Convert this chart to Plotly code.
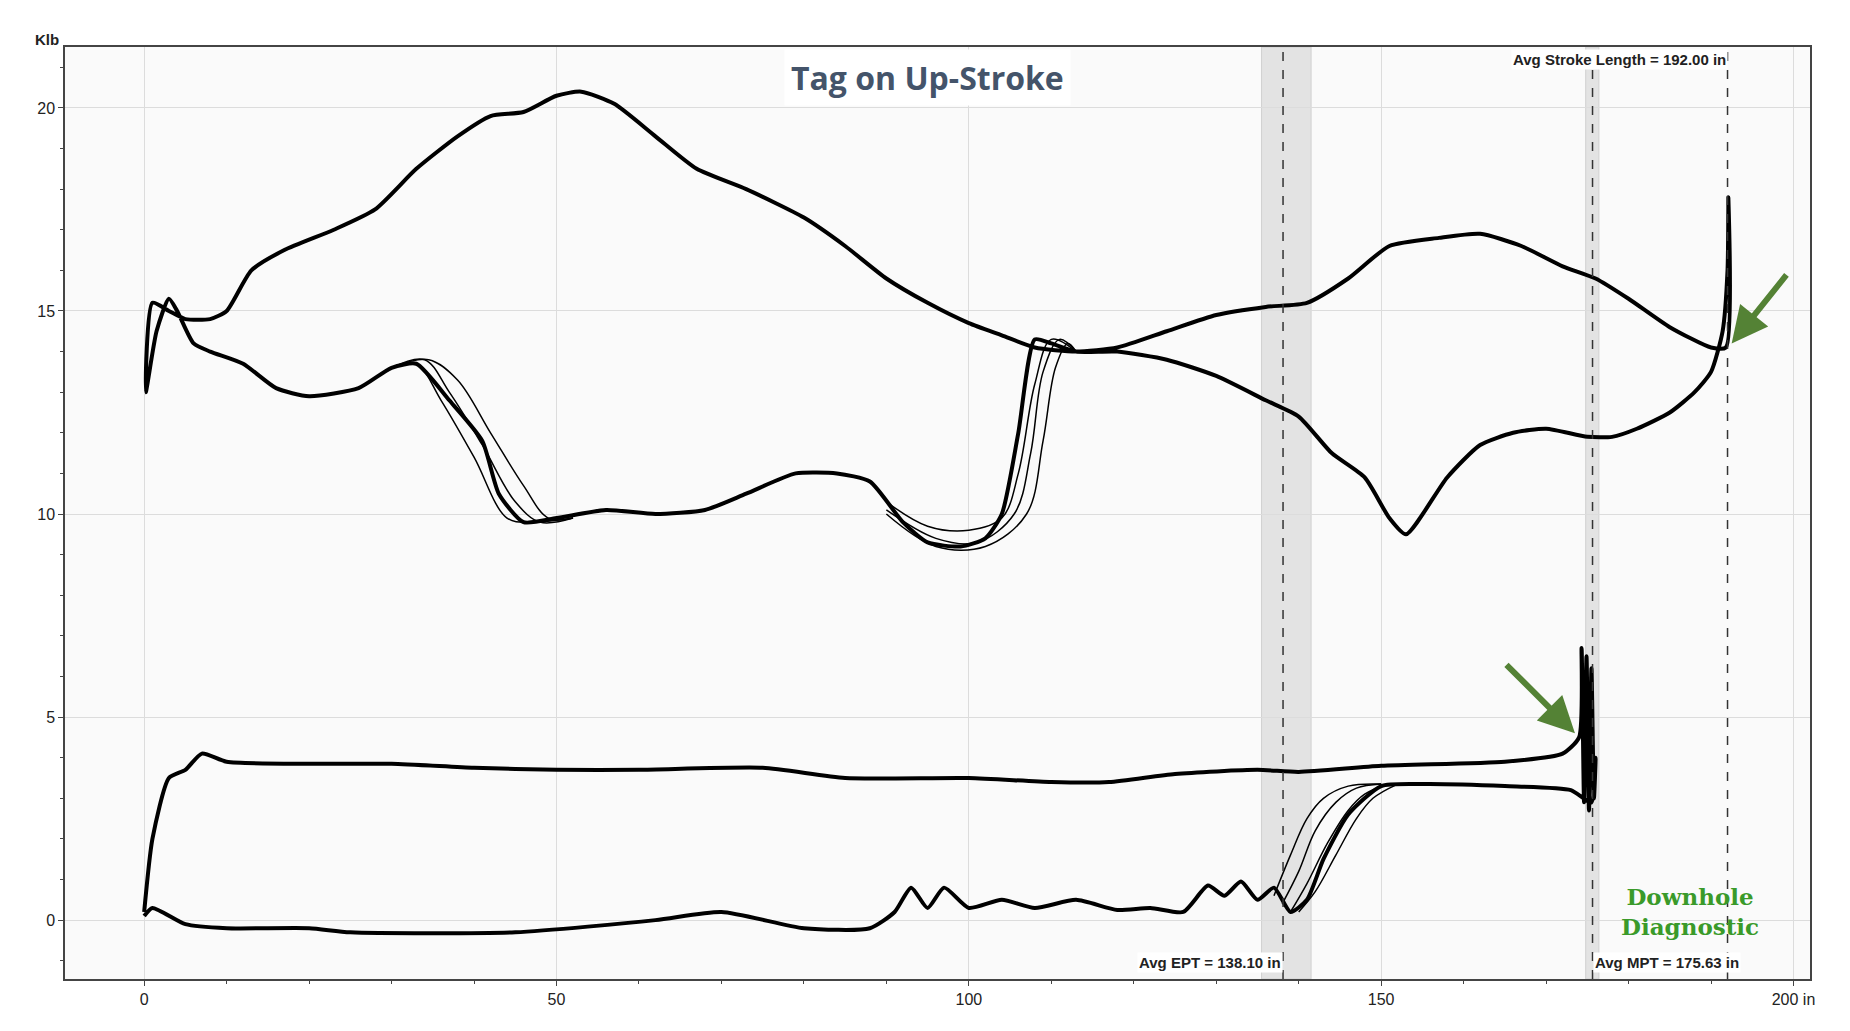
import plotly.graph_objects as go

# surface card (one loop, points in stroke order)
surf_x = [0.2, 1, 3, 5, 8, 10, 13, 17, 23, 28, 33, 38, 42, 46, 50, 53, 57, 62, 67, 73, 80, 85, 90, 95, 100, 104, 108,
          113, 118, 124, 130, 136, 141, 146, 151, 157, 162, 167, 172, 176, 180, 185, 190, 191.8, 192.1, 192, 191.4,
          190, 188, 185, 181, 178, 175, 170, 166, 162, 158, 153, 151, 148, 144, 140, 136, 130, 124, 118, 113, 110,
          108, 106, 104, 102, 99, 95, 92, 88, 84, 79, 73, 68, 62, 56, 50, 46, 43, 41, 37, 33, 30, 26, 20, 16, 12, 8,
          6, 4, 3, 1.5, 0.2]
surf_y = [13.0, 15.2, 15.0, 14.8, 14.8, 15.0, 16.0, 16.5, 17.0, 17.5, 18.5, 19.3, 19.8, 19.9, 20.3, 20.4, 20.1, 19.3,
          18.5, 18.0, 17.3, 16.6, 15.8, 15.2, 14.7, 14.4, 14.1, 14.0, 14.1, 14.5, 14.9, 15.1, 15.2, 15.8, 16.6, 16.8,
          16.9, 16.6, 16.1, 15.8, 15.3, 14.6, 14.1, 14.1, 17.8, 16.0, 14.5, 13.5, 13.0, 12.5, 12.1, 11.9, 11.9, 12.1,
          12.0, 11.7, 10.9, 9.5, 9.9, 10.9, 11.5, 12.4, 12.8, 13.4, 13.8, 14.0, 14.0, 14.2, 14.3, 12.0, 10.0, 9.4, 9.2,
          9.3, 9.8, 10.8, 11.0, 11.0, 10.5, 10.1, 10.0, 10.1, 9.9, 9.8, 10.5, 11.8, 12.8, 13.7, 13.6, 13.1, 12.9,
          13.1, 13.7, 14.0, 14.2, 15.0, 15.3, 14.5, 13.0]

# extra strokes where the loops split apart (surface transitions)
surf_alt_x = [
    [113, 110, 108, 106, 104, 100, 95, 90],
    [113, 111, 109, 107.5, 105.5, 101, 96, 90],
    [113, 112, 110.5, 109, 107, 102, 96, 90],
]
surf_alt_y = [
    [14.0, 14.3, 13.2, 11.0, 9.9, 9.6, 9.7, 10.3],
    [14.0, 14.3, 13.5, 11.5, 10.0, 9.3, 9.4, 10.1],
    [14.0, 14.2, 13.6, 11.8, 10.0, 9.2, 9.2, 10.0],
]
surf_alt2_x = [
    [30, 33, 36, 40, 44, 47, 52],
    [30, 34, 37, 41, 45, 48, 52],
    [30, 34.5, 38, 42, 46, 49, 52],
]
surf_alt2_y = [
    [13.6, 13.7, 12.8, 11.4, 9.9, 9.8, 9.9],
    [13.6, 13.8, 13.0, 11.7, 10.3, 9.8, 9.9],
    [13.6, 13.8, 13.3, 12.0, 10.7, 9.9, 9.9],
]

# pump card
pump_x = [0, 1, 3, 5, 7, 10, 20, 30, 40, 50, 60, 75, 85, 100, 110, 117, 125, 135, 140, 150, 165, 172, 174,
          174.3, 174.6, 174.9, 175.2, 175.5, 175.8, 176.0, 175.5, 173, 165, 155, 150, 146, 143, 141, 139, 137, 135,
          133, 131, 129, 126, 122, 118, 113, 108, 104, 100, 97, 95, 93, 91, 88, 80, 70, 62, 45, 25, 20, 10, 5, 1, 0]
pump_y = [0.2, 2.0, 3.5, 3.7, 4.1, 3.9, 3.85, 3.85, 3.75, 3.7, 3.7, 3.75, 3.5, 3.5, 3.4, 3.4, 3.6, 3.7, 3.65, 3.8,
          3.9, 4.1, 4.5, 6.7, 2.9, 6.5, 2.7, 6.2, 3.0, 4.0, 2.9, 3.2, 3.3, 3.35, 3.3, 2.6, 1.5, 0.5, 0.2, 0.8, 0.5,
          0.95, 0.6, 0.85, 0.2, 0.3, 0.25, 0.5, 0.3, 0.5, 0.3, 0.8, 0.3, 0.8, 0.2, -0.2, -0.2, 0.2, 0.0, -0.3, -0.3,
          -0.2, -0.2, -0.1, 0.3, 0.1]
pump_alt_x = [
    [137, 139, 141, 143, 146, 150],
    [138, 140, 142, 144.5, 147, 150],
    [139, 141, 143.5, 146, 148, 151],
    [140, 142, 144.5, 147, 149, 152],
]
pump_alt_y = [
    [0.6, 1.6, 2.5, 3.0, 3.3, 3.35],
    [0.4, 1.2, 2.2, 2.9, 3.25, 3.35],
    [0.2, 0.9, 1.9, 2.7, 3.1, 3.35],
    [0.2, 0.7, 1.6, 2.5, 3.0, 3.35],
]

ept = 138.10
mpt = 175.63
stroke = 192.00

fig = go.Figure()
fig.add_trace(go.Scatter(x=surf_x, y=surf_y, mode="lines",
                         line=dict(color="black", width=4, shape="spline", smoothing=0.6)))
for xs, ys in zip(surf_alt_x + surf_alt2_x, surf_alt_y + surf_alt2_y):
    fig.add_trace(go.Scatter(x=xs, y=ys, mode="lines", line=dict(color="black", width=1.5, shape="spline")))
fig.add_trace(go.Scatter(x=pump_x, y=pump_y, mode="lines",
                         line=dict(color="black", width=4, shape="spline", smoothing=0.6)))
for xs, ys in zip(pump_alt_x, pump_alt_y):
    fig.add_trace(go.Scatter(x=xs, y=ys, mode="lines", line=dict(color="black", width=1.5, shape="spline")))

# bands and dashed markers
fig.add_vrect(x0=135.5, x1=141.5, fillcolor="#e3e3e3", line_width=1, line_color="#d0d0d0", layer="below")
fig.add_vrect(x0=174.8, x1=176.4, fillcolor="#e3e3e3", line_width=1, line_color="#d0d0d0", layer="below")
for v in [ept, mpt, stroke]:
    fig.add_vline(x=v, line=dict(color="#333", width=1.5, dash="dash"))

fig.add_annotation(x=ept, y=-1.3, text=f"<b>Avg EPT = {ept:.2f} in</b>", xanchor="right", yanchor="bottom",
                   showarrow=False, font=dict(size=15, color="#222"), bgcolor="white")
fig.add_annotation(x=mpt, y=-1.3, text=f"<b>Avg MPT = {mpt:.2f} in</b>", xanchor="left", yanchor="bottom",
                   showarrow=False, font=dict(size=15, color="#222"), bgcolor="white")
fig.add_annotation(x=stroke, y=21.45, text=f"<b>Avg Stroke Length = {stroke:.2f} in</b>", xanchor="right",
                   yanchor="top", showarrow=False, font=dict(size=15, color="#222"), bgcolor="white")
fig.add_annotation(x=95, y=20.75, text="<b>Tag on Up-Stroke</b>", showarrow=False,
                   font=dict(size=32, color="#44546a", family="Open Sans"), bgcolor="white", borderpad=6)

# green arrows
fig.add_annotation(x=192.5, y=14.2, ax=56, ay=-70, text="", showarrow=True, arrowhead=2, arrowsize=1.2,
                   arrowwidth=6, arrowcolor="#548235")
fig.add_annotation(x=173.5, y=4.6, ax=-70, ay=-70, text="", showarrow=True, arrowhead=2, arrowsize=1.2,
                   arrowwidth=6, arrowcolor="#548235")
fig.add_annotation(x=187.5, y=0.2, text="<b>Downhole<br>Diagnostic</b>", showarrow=False,
                   font=dict(size=23, color="#3a9a2a", family="DejaVu Serif"))

fig.add_annotation(x=0, y=1, xref="paper", yref="paper", xshift=-32, yshift=18, text="<b>Klb</b>",
                   showarrow=False, font=dict(size=15, color="#222"))

fig.update_layout(
    width=1850, height=1031, showlegend=False,
    plot_bgcolor="#fafafa", paper_bgcolor="white",
    margin=dict(l=57, r=48, t=39, b=60),
    font=dict(family="Liberation Sans", size=16, color="#222"),
)
fig.update_xaxes(range=[-9.6, 202], tickvals=[0, 50, 100, 150, 200], ticktext=["0", "50", "100", "150", "200 in"],
                 gridcolor="#dcdcdc", zeroline=False, showline=True, linecolor="#444", linewidth=1.5, mirror=True,
                 ticks="outside", ticklen=5, minor=dict(ticks="outside", ticklen=3, dtick=10))
fig.update_yaxes(range=[-1.45, 21.5], tickvals=[0, 5, 10, 15, 20], gridcolor="#dcdcdc", zeroline=False,
                 showline=True, linecolor="#444", linewidth=1.5, mirror=True, ticks="outside", ticklen=5,
                 minor=dict(ticks="outside", ticklen=3, dtick=1))

fig.write_html("out.html")
